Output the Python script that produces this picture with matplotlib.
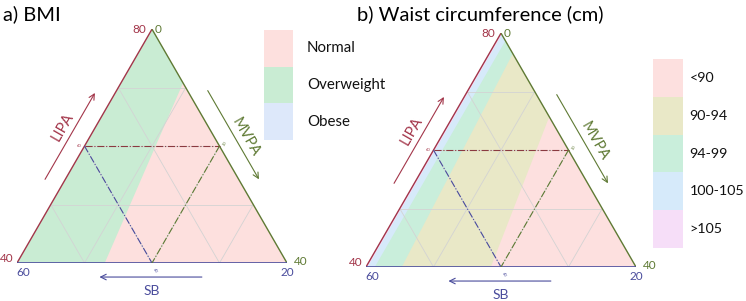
import numpy as np
import matplotlib.pyplot as plt

plt.rcParams['font.family'] = ['Lato', 'DejaVu Sans']

# ternary axis ranges (LIPA 40-80, MVPA 0-40, SB 60-20)
grid_lipa = [50, 60, 70]
grid_mvpa = [10, 20, 30]
grid_sb = [30, 40, 50]
ref_point = (60, 20, 40)  # LIPA, MVPA, SB marked with dash-dot lines

# a) BMI zones, boundaries given as (LIPA, MVPA) on right edge -> bottom edge
bmi_labels = ['Normal', 'Overweight', 'Obese']
bmi_colors = ['#fde0de', '#c9ecd3', '#dde8fa']
bmi_bounds = [[(70.8, 9.2), (40, 13.0)]]

# b) waist circumference zones
waist_labels = ['<90', '90-94', '94-99', '100-105', '>105']
waist_colors = ['#fde0df', '#e9e8c7', '#c9eedb', '#d6eafa', '#f6def8']
waist_bounds = [[(65.7, 14.3), (40, 18.5)],
                [(76.5, 3.5), (40, 5.3)],
                [(78.7, 1.3), (40, 1.3)],
                [(79.75, 0.25), (40, 0.25)]]

c_lipa = '#a3364a'
c_mvpa = '#5f7a34'
c_sb = '#4a4c9c'
c_grid = '#d3d3d3'

H = np.sqrt(3) / 2


def tern(lipa, mvpa):
    a = (np.asarray(lipa, float) - 40) / 40
    b = np.asarray(mvpa, float) / 40
    return b + a / 2, a * H


def draw_panel(ax, bounds, colors):
    ax.set_xlim(0, 1)
    ax.set_ylim(0, H)
    ax.axis('off')
    x, y = tern([80, 40, 40], [0, 0, 40])
    ax.fill(x, y, color=colors[0], lw=0)
    for (p, q), c in zip(bounds, colors[1:]):
        x, y = tern([80, p[0], q[0], 40], [0, p[1], q[1], 0])
        ax.fill(x, y, color=c, lw=0)

    # grid
    for L in grid_lipa:
        x, y = tern([L, L], [0, 80 - L])
        ax.plot(x, y, color=c_grid, lw=0.6)
    for M in grid_mvpa:
        x, y = tern([80 - M, 40], [M, M])
        ax.plot(x, y, color=c_grid, lw=0.6)
    for S in grid_sb:
        x, y = tern([100 - S, 40], [0, 60 - S])
        ax.plot(x, y, color=c_grid, lw=0.6)

    # edges
    x, y = tern([40, 80], [0, 0])
    ax.plot(x, y, color=c_lipa, lw=1.0, solid_capstyle='butt')
    x, y = tern([80, 40], [0, 40])
    ax.plot(x, y, color=c_mvpa, lw=1.0, solid_capstyle='butt')
    x, y = tern([40, 40], [0, 40])
    ax.plot(x, y, color=c_sb, lw=1.2, solid_capstyle='butt')

    # dash-dot reference lines
    L0, M0, S0 = ref_point
    x, y = tern([L0, L0], [0, 80 - L0])
    ax.plot(x, y, color='#8a3a40', lw=0.8, ls='-.')
    x, y = tern([100 - S0, 40], [0, 60 - S0])
    ax.plot(x, y, color=c_sb, lw=0.8, ls='-.')
    x, y = tern([80 - M0, 40], [M0, M0])
    ax.plot(x, y, color=c_mvpa, lw=0.8, ls='-.')
    x, y = tern(L0, 0)
    ax.text(x - 0.012, y, str(L0), color=c_lipa, fontsize=3, ha='right', va='center')
    x, y = tern(80 - M0, M0)
    ax.text(x + 0.01, y + 0.01, str(M0), color=c_mvpa, fontsize=3, rotation=60,
            ha='left', va='center')
    x, y = tern(40, 60 - S0)
    ax.text(x + 0.01, y - 0.015, str(S0), color=c_sb, fontsize=3, rotation=-60,
            ha='center', va='top')

    # corner labels
    fs = 8.5
    ax.text(0.478, H, '80', color=c_lipa, fontsize=fs, ha='right', va='center')
    ax.text(0.51, H, '0', color=c_mvpa, fontsize=fs, ha='left', va='center')
    ax.text(-0.012, 0.018, '40', color=c_lipa, fontsize=fs, ha='right', va='center')
    ax.text(0.022, -0.035, '60', color=c_sb, fontsize=fs, ha='center', va='center')
    ax.text(1.0, -0.035, '20', color=c_sb, fontsize=fs, ha='center', va='center')
    ax.text(1.025, 0.005, '40', color=c_mvpa, fontsize=fs, ha='left', va='center')

    # axis arrows and names
    nl = np.array([-np.sqrt(3) / 2, 0.5])
    nr = np.array([np.sqrt(3) / 2, 0.5])
    d = 0.065
    t = np.array(tern(52.4, 0)) + d * nl
    h = np.array(tern(68.0, 0)) + d * nl
    ax.annotate('', xy=h, xytext=t, annotation_clip=False,
                arrowprops=dict(arrowstyle='->', color=c_lipa, lw=0.8))
    p = np.array(tern(60.8, 0)) + 0.105 * nl
    ax.text(p[0], p[1], 'LIPA', color=c_lipa, fontsize=10.5, rotation=60,
            ha='center', va='center')

    t = np.array(tern(80 - 11.6, 11.6)) + d * nr
    h = np.array(tern(80 - 27.6, 27.6)) + d * nr
    ax.annotate('', xy=h, xytext=t, annotation_clip=False,
                arrowprops=dict(arrowstyle='->', color=c_mvpa, lw=0.8))
    p = np.array(tern(80 - 20.8, 20.8)) + 0.1 * nr
    ax.text(p[0], p[1], 'MVPA', color=c_mvpa, fontsize=10.5, rotation=-60,
            ha='center', va='center')

    t = np.array(tern(40, 27.8)) + [0, -0.052]
    h = np.array(tern(40, 11.8)) + [0, -0.052]
    ax.annotate('', xy=h, xytext=t, annotation_clip=False,
                arrowprops=dict(arrowstyle='->', color=c_sb, lw=0.8))
    ax.text(0.5, -0.103, 'SB', color=c_sb, fontsize=10, ha='center', va='center')


def draw_legend(ax, labels, colors, text_x, fs):
    n = len(labels)
    ax.barh(range(n), [1] * n, height=1, left=0, color=colors, lw=0)
    ax.set_xlim(0, 1)
    ax.set_ylim(n - 0.5, -0.5)
    ax.axis('off')
    for i, lab in enumerate(labels):
        ax.text(text_x, i, lab, fontsize=fs, ha='left', va='center', color='#111111')


W, Hpx = 746, 301
fig = plt.figure(figsize=(W / 100, Hpx / 100), dpi=100)


def px_axes(x0, y0, w, h):
    return fig.add_axes([x0 / W, 1 - (y0 + h) / Hpx, w / W, h / Hpx])


ax_a = px_axes(17, 263 - 270 * H, 270, 270 * H)
draw_panel(ax_a, bmi_bounds, bmi_colors)
ax_b = px_axes(366, 267 - 270 * H, 270, 270 * H)
draw_panel(ax_b, waist_bounds, waist_colors)

leg_a = px_axes(264, 30, 29, 110)
draw_legend(leg_a, bmi_labels, bmi_colors, 1.48, 10.8)
leg_b = px_axes(653, 59, 30, 189)
draw_legend(leg_b, waist_labels, waist_colors, 1.22, 10.3)

fig.text(3 / W, 1 - 14 / Hpx, 'a) BMI', fontsize=14.5, ha='left', va='center')
fig.text(357 / W, 1 - 14 / Hpx, 'b) Waist circumference (cm)', fontsize=14.5,
         ha='left', va='center')

fig.savefig('out.png', dpi=100)
